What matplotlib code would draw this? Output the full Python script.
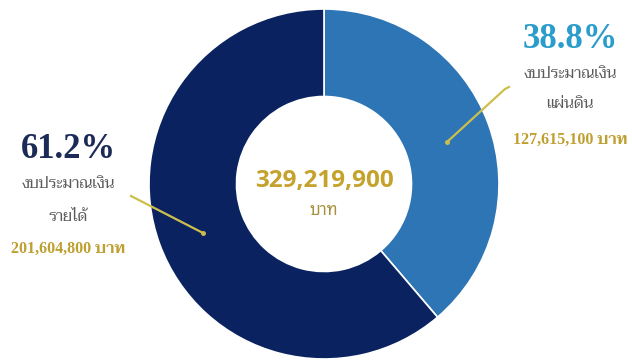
import matplotlib
matplotlib.use("Agg")
import matplotlib.pyplot as plt

# budget split (baht)
labels = ["งบประมาณเงิน\nแผ่นดิน", "งบประมาณเงิน\nรายได้"]
amounts = [127615100, 201604800]
pcts = ["38.8%", "61.2%"]
total_text = "329,219,900"
colors = ["#2e75b6", "#0a2360"]

W, H = 632, 361
fig = plt.figure(figsize=(W / 100, H / 100), dpi=100)
ax = fig.add_axes([0, 0, 1, 1])

cx, cy, r = 324, 184, 175
# y axis is flipped below, so startangle -90 is the top and ccw reads clockwise
ax.pie(amounts, colors=colors, startangle=-90, counterclock=True,
       radius=r, center=(cx, cy), frame=True,
       wedgeprops=dict(width=r * 0.5, edgecolor="white", linewidth=1.2))
ax.set_xlim(0, W)
ax.set_ylim(H, 0)
ax.set_aspect("equal")
ax.axis("off")

serif_th = ["Liberation Serif", "Taviraj"]
gold = "#bf9f30"
grey = "#5a5a5a"
line_c = "#cdbf4c"

# centre
ax.text(cx, 181, total_text, ha="center", va="center", fontsize=17.5,
        fontweight="bold", color="#c4a22c", family=["Open Sans", "DejaVu Sans"])
ax.text(cx, 211, "บาท", ha="center", va="center", fontsize=12,
        color="#a8903e", family=["Noto Sans Thai Looped", "DejaVu Sans"])

# left block
lx = 68
ax.text(lx, 150, pcts[1], ha="center", va="center", fontsize=25,
        fontweight="bold", color="#1b2a57", family=serif_th)
ax.text(lx, 184, "งบประมาณเงิน", ha="center", va="center", fontsize=11,
        color=grey, family=serif_th)
ax.text(lx, 217, "รายได้", ha="center", va="center", fontsize=11,
        color=grey, family=serif_th)
ax.text(lx, 249, f"{amounts[1]:,} บาท", ha="center", va="center", fontsize=11.5,
        fontweight="semibold", color=gold, family=serif_th)
ax.plot([131, 203], [196, 233], color=line_c, lw=1.6)
ax.plot([203], [233], "o", color=line_c, ms=2.5)

# right block
rx = 570
ax.text(rx, 40, pcts[0], ha="center", va="center", fontsize=25,
        fontweight="bold", color="#2a9dcc", family=serif_th)
ax.text(rx, 74, "งบประมาณเงิน", ha="center", va="center", fontsize=11,
        color=grey, family=serif_th)
ax.text(rx, 104, "แผ่นดิน", ha="center", va="center", fontsize=11,
        color=grey, family=serif_th)
ax.text(rx, 140, f"{amounts[0]:,} บาท", ha="center", va="center", fontsize=11.5,
        fontweight="semibold", color=gold, family=serif_th)
ax.plot([447, 505, 509], [142, 89, 87], color=line_c, lw=1.6)
ax.plot([447], [142], "o", color=line_c, ms=2.5)

fig.savefig("out.png", dpi=100)
